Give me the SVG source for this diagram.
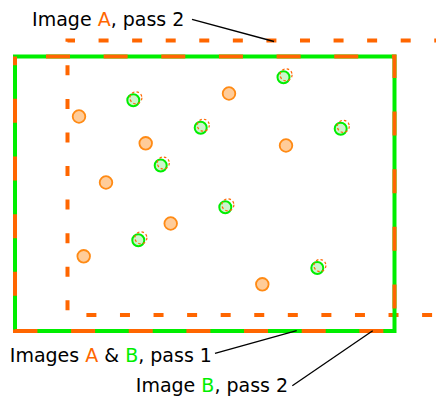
<svg xmlns="http://www.w3.org/2000/svg" width="436" height="398" viewBox="0 0 436 398">
<style>
  .lbl { font-family: "DejaVu Sans", "Liberation Sans", sans-serif; font-size: 19px; fill: #000; }
  .a { fill: #ff6600; }
  .b { fill: #00ee00; }
  .lead { stroke: #000; stroke-width: 1.3; fill: none; }
  .ptA { fill: #ffcc99; stroke: #ff8a14; stroke-width: 1.8; }
  .ptB { fill: #ccf5cc; stroke: #00ee00; stroke-width: 2; }
  .ptA2 { fill: none; stroke: #ff6600; stroke-width: 1.2; stroke-dasharray: 2.5 2.2; }
</style>
<defs>
  <g id="pb">
    <circle class="ptB" cx="0" cy="0" r="6"/>
    <circle class="ptA2" cx="2.6" cy="-2.5" r="6"/>
  </g>
</defs>

<g id="image-a-pass2">
  <rect x="67.5" y="40.5" width="379.5" height="274.5" fill="none" stroke="#ff6600" stroke-width="4" stroke-dasharray="10 23.57" stroke-dashoffset="2.5"/>
</g>

<g id="images-ab-pass1">
  <rect x="15" y="56.5" width="379.5" height="274.5" fill="none" stroke="#00ee00" stroke-width="4"/>
  <rect x="15" y="56.5" width="379.5" height="274.5" fill="none" stroke="#ff6600" stroke-width="4" stroke-dasharray="24 33.65" stroke-dashoffset="26.65"/>
</g>

<g id="points-a">
  <circle class="ptA" cx="79" cy="116.5" r="6.3"/>
  <circle class="ptA" cx="229" cy="93.5" r="6.3"/>
  <circle class="ptA" cx="145.7" cy="143.3" r="6.3"/>
  <circle class="ptA" cx="286" cy="145.5" r="6.3"/>
  <circle class="ptA" cx="106" cy="182.5" r="6.3"/>
  <circle class="ptA" cx="170.7" cy="223.5" r="6.3"/>
  <circle class="ptA" cx="83.7" cy="256.3" r="6.3"/>
  <circle class="ptA" cx="262.3" cy="284.3" r="6.3"/>
</g>

<g id="points-b">
  <use href="#pb" x="133.3" y="100.3"/>
  <use href="#pb" x="283.5" y="77.3"/>
  <use href="#pb" x="200.7" y="127.7"/>
  <use href="#pb" x="340.7" y="128.8"/>
  <use href="#pb" x="160.7" y="165.5"/>
  <use href="#pb" x="225.3" y="207.3"/>
  <use href="#pb" x="138.3" y="240.3"/>
  <use href="#pb" x="317.3" y="268"/>
</g>

<g id="connectors">
  <line class="lead" x1="192" y1="19.3" x2="274" y2="41.5"/>
  <line class="lead" x1="215" y1="353.3" x2="296.7" y2="330.7"/>
  <line class="lead" x1="292.3" y1="385.7" x2="372.7" y2="330.7"/>
</g>

<g id="label-a2">
  <text class="lbl" x="32.1" y="26">Image <tspan class="a">A</tspan>, pass 2</text>
</g>
<g id="label-ab1">
  <text class="lbl" x="9.8" y="361.7">Images <tspan class="a">A</tspan> &amp; <tspan class="b">B</tspan>, pass 1</text>
</g>
<g id="label-b2">
  <text class="lbl" x="135.8" y="391.7">Image <tspan class="b">B</tspan>, pass 2</text>
</g>
</svg>
